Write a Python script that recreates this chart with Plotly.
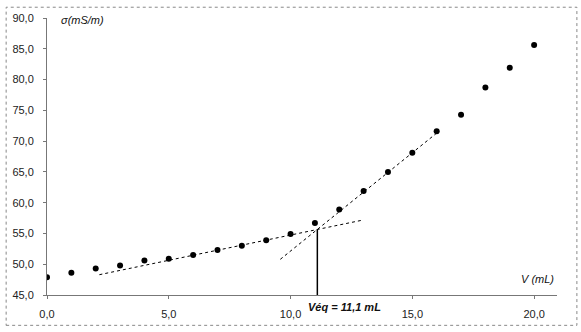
import plotly.graph_objects as go

# Data
V = [0, 1, 2, 3, 4, 5, 6, 7, 8, 9, 10, 11, 12, 13, 14, 15, 16, 17, 18, 19, 20]
sigma = [47.9, 48.6, 49.3, 49.8, 50.6, 50.9, 51.5, 52.3, 53.0, 53.9, 54.9,
         56.7, 58.9, 61.9, 65.0, 68.1, 71.6, 74.3, 78.7, 81.9, 85.6]

# Tangent lines (endpoints)
line1_x = [2.15, 13.0]
line1_y = [48.3, 57.2]
line2_x = [9.58, 16.0]
line2_y = [50.8, 71.3]

Veq = 11.1
sigma_eq = 55.65
vline_x = [Veq, Veq]
vline_y = [45.0, sigma_eq]

xtick_vals = [0, 5, 10, 15, 20]
xtick_text = ["0,0", "5,0", "10,0", "15,0", "20,0"]
ytick_vals = [45, 50, 55, 60, 65, 70, 75, 80, 85, 90]
ytick_text = ["45,0", "50,0", "55,0", "60,0", "65,0", "70,0", "75,0", "80,0", "85,0", "90,0"]

font_family = "Liberation Sans, Arial, sans-serif"

fig = go.Figure()
fig.add_trace(go.Scatter(x=line1_x, y=line1_y, mode="lines",
                         line=dict(color="black", width=1, dash="3px,3px"),
                         showlegend=False, hoverinfo="skip"))
fig.add_trace(go.Scatter(x=line2_x, y=line2_y, mode="lines",
                         line=dict(color="black", width=1, dash="3px,3px"),
                         showlegend=False, hoverinfo="skip"))
fig.add_trace(go.Scatter(x=vline_x, y=vline_y, mode="lines",
                         line=dict(color="black", width=1.5),
                         showlegend=False, hoverinfo="skip"))
fig.add_trace(go.Scatter(x=V, y=sigma, mode="markers",
                         marker=dict(color="black", size=6),
                         showlegend=False))

fig.update_layout(
    width=581, height=332,
    margin=dict(l=45, r=24, t=14, b=35),
    paper_bgcolor="white", plot_bgcolor="white",
    font=dict(family=font_family, size=11, color="#222"),
    xaxis=dict(range=[0, 20.94], tickvals=xtick_vals, ticktext=xtick_text,
               showgrid=False, zeroline=False, showline=True, linecolor="#777",
               linewidth=1, ticks="outside", ticklen=3, tickcolor="#777",
               ticklabelstandoff=6),
    yaxis=dict(range=[45, 90], tickvals=ytick_vals, ticktext=ytick_text,
               showgrid=False, zeroline=False, showline=True, linecolor="#777",
               linewidth=1, ticks="outside", ticklen=3, tickcolor="#777",
               ticklabelstandoff=7),
    shapes=[dict(type="rect", xref="paper", yref="paper",
                 x0=-0.0801, x1=1.039, y0=-0.1095, y1=1.0389,
                 line=dict(color="#888", width=1, dash="dot"))],
    annotations=[
        dict(x=Veq, y=45, xref="x", yref="y", text="<b><i>Véq = 11,1 mL</i></b>",
             showarrow=False, xanchor="left", yanchor="top", xshift=-11, yshift=-4,
             font=dict(size=11, color="#111")),
        dict(x=0.5, y=90, xref="x", yref="y", text="<i>σ(mS/m)</i>",
             showarrow=False, xanchor="left", yanchor="middle", yshift=-2,
             font=dict(size=11, color="#111")),
        dict(x=20.9, y=45, xref="x", yref="y", text="<i>V (mL)</i>",
             showarrow=False, xanchor="right", yanchor="bottom", yshift=8,
             font=dict(size=11, color="#111")),
    ],
)

fig.write_html("out.html")
